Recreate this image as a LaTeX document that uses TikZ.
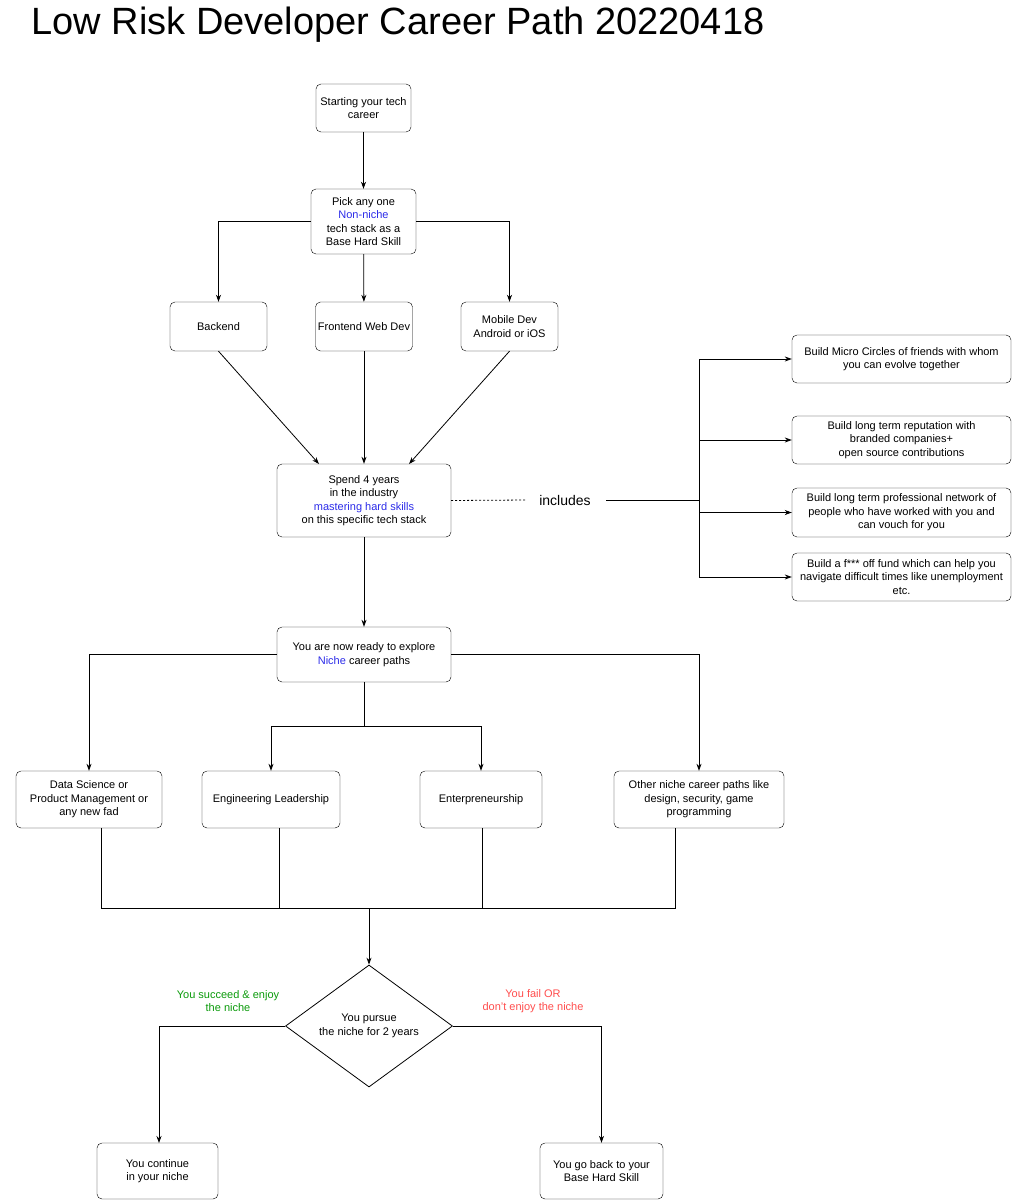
\documentclass[tikz,border=0pt]{standalone}
\usepackage{fontspec}
\setmainfont{Liberation Sans}
\usetikzlibrary{shapes.geometric,arrows.meta}
\definecolor{bl}{HTML}{2B2BE8}
\definecolor{gr}{HTML}{0A9A0A}
\definecolor{rd}{HTML}{FF4D4D}
\begin{document}
\begin{tikzpicture}[x=1pt,y=-1pt,
  box/.style={draw,rounded corners=5pt,align=center,inner sep=1pt,font=\fontsize{11}{13.5}\selectfont},
  arr/.style={-{Stealth[length=7pt,width=5pt]},line width=0.8pt},
  ln/.style={line width=0.8pt},
  lbl/.style={align=center,font=\fontsize{11}{13.5}\selectfont}]
\useasboundingbox (0,0) rectangle (1012,1200);
\node[anchor=west,font=\fontsize{38}{44}\selectfont] (title) at (28,25) {Low Risk Developer Career Path 20220418};
\node[box,minimum width=95pt,minimum height=48pt] (start) at (363.5,108) {Starting your tech\\career};
\node[box,minimum width=105pt,minimum height=65pt] (pick) at (363.5,221.5) {Pick any one\\\textcolor{bl}{Non-niche}\\tech stack as a\\Base Hard Skill};
\node[box,minimum width=97pt,minimum height=49pt] (be) at (218.5,326.5) {Backend};
\node[box,minimum width=97pt,minimum height=49pt] (fe) at (364,326.5) {Frontend Web Dev};
\node[box,minimum width=97pt,minimum height=49pt] (mo) at (509.5,326.5) {Mobile Dev\\Android or iOS};
\node[box,minimum width=174pt,minimum height=73pt] (spend) at (364,500.5) {Spend 4 years\\in the industry\\\textcolor{bl}{mastering hard skills}\\on this specific tech stack};
\node[lbl,font=\fontsize{14}{16}\selectfont,inner sep=0pt,minimum width=52pt] (inc) at (565,500) {includes};
\node[box,minimum width=219pt,minimum height=48pt] (r1) at (901.5,359) {Build Micro Circles of friends with whom\\you can evolve together};
\node[box,minimum width=219pt,minimum height=48pt] (r2) at (901.5,440) {Build long term reputation with\\branded companies+\\open source contributions};
\node[box,minimum width=219pt,minimum height=49pt] (r3) at (901.5,512.5) {Build long term professional network of\\people who have worked with you and\\can vouch for you};
\node[box,minimum width=219pt,minimum height=48pt] (r4) at (901.5,577) {Build a f*** off fund which can help you\\navigate difficult times like unemployment\\etc.};
\node[box,minimum width=174pt,minimum height=55pt] (niche) at (364,654.5) {You are now ready to explore\\\textcolor{bl}{Niche} career paths};
\node[box,minimum width=146pt,minimum height=57pt] (ds) at (89,799.5) {Data Science or\\Product Management or\\any new fad};
\node[box,minimum width=138pt,minimum height=57pt] (el) at (271,799.5) {Engineering Leadership};
\node[box,minimum width=122pt,minimum height=57pt] (en) at (481,799.5) {Enterpreneurship};
\node[box,minimum width=170pt,minimum height=57pt] (ot) at (699,799.5) {Other niche career paths like\\design, security, game\\programming};
\node[draw,diamond,aspect=1.37,minimum width=167pt,minimum height=122pt,inner sep=0pt,line width=0.8pt] (dia) at (369,1026) {};
\node[lbl] (diat) at (369,1026) {You pursue\\the niche for 2 years};
\node[box,minimum width=121pt,minimum height=56pt] (cont) at (157.5,1171) {You continue\\in your niche};
\node[box,minimum width=123pt,minimum height=56pt] (back) at (601.5,1171) {You go back to your\\Base Hard Skill};
\node[lbl,text=gr] (succ) at (228,1001) {You succeed \& enjoy\\the niche};
\node[lbl,text=rd] (fail) at (533,1001) {You fail OR\\don't enjoy the niche};
\coordinate (t1) at (699,500);
\coordinate (d1) at (526,500);
\coordinate (d2) at (606,500);
\coordinate (m1) at (369,908);
\coordinate (s1) at (319,464);
\coordinate (s2) at (409,464);
\coordinate (j1) at (364,726);
\draw[arr] (start) -- (pick);
\draw[arr] (pick) -- (fe);
\draw[arr] (pick.west) -| (be.north);
\draw[arr] (pick.east) -| (mo.north);
\draw[arr] (be.south) -- (s1);
\draw[arr] (fe) -- (spend);
\draw[arr] (mo.south) -- (s2);
\draw[ln,dash pattern=on 2pt off 2pt] (spend.east) -- (d1);
\draw[ln] (d2) -- (t1);
\draw[ln] (t1 |- r1.west) -- (t1 |- r4.west);
\draw[arr] (t1 |- r1.west) -- (r1.west);
\draw[arr] (t1 |- r2.west) -- (r2.west);
\draw[arr] (t1 |- r3.west) -- (r3.west);
\draw[arr] (t1 |- r4.west) -- (r4.west);
\draw[arr] (spend) -- (niche);
\draw[arr] (niche.west) -| (ds.north);
\draw[arr] (niche.east) -| (ot.north);
\draw[ln] (niche.south) -- (j1);
\draw[arr] (j1) -| (el.north);
\draw[arr] (j1) -| (en.north);
\draw[ln] (101,828) |- (m1) -| (675,828);
\draw[ln] (279,828) -- (279,908);
\draw[ln] (482,828) -- (482,908);
\draw[arr] (m1) -- (dia.north);
\draw[arr] (dia.west) -| (159,1143);
\draw[arr] (dia.east) -| (back.north);
\end{tikzpicture}
\end{document}
